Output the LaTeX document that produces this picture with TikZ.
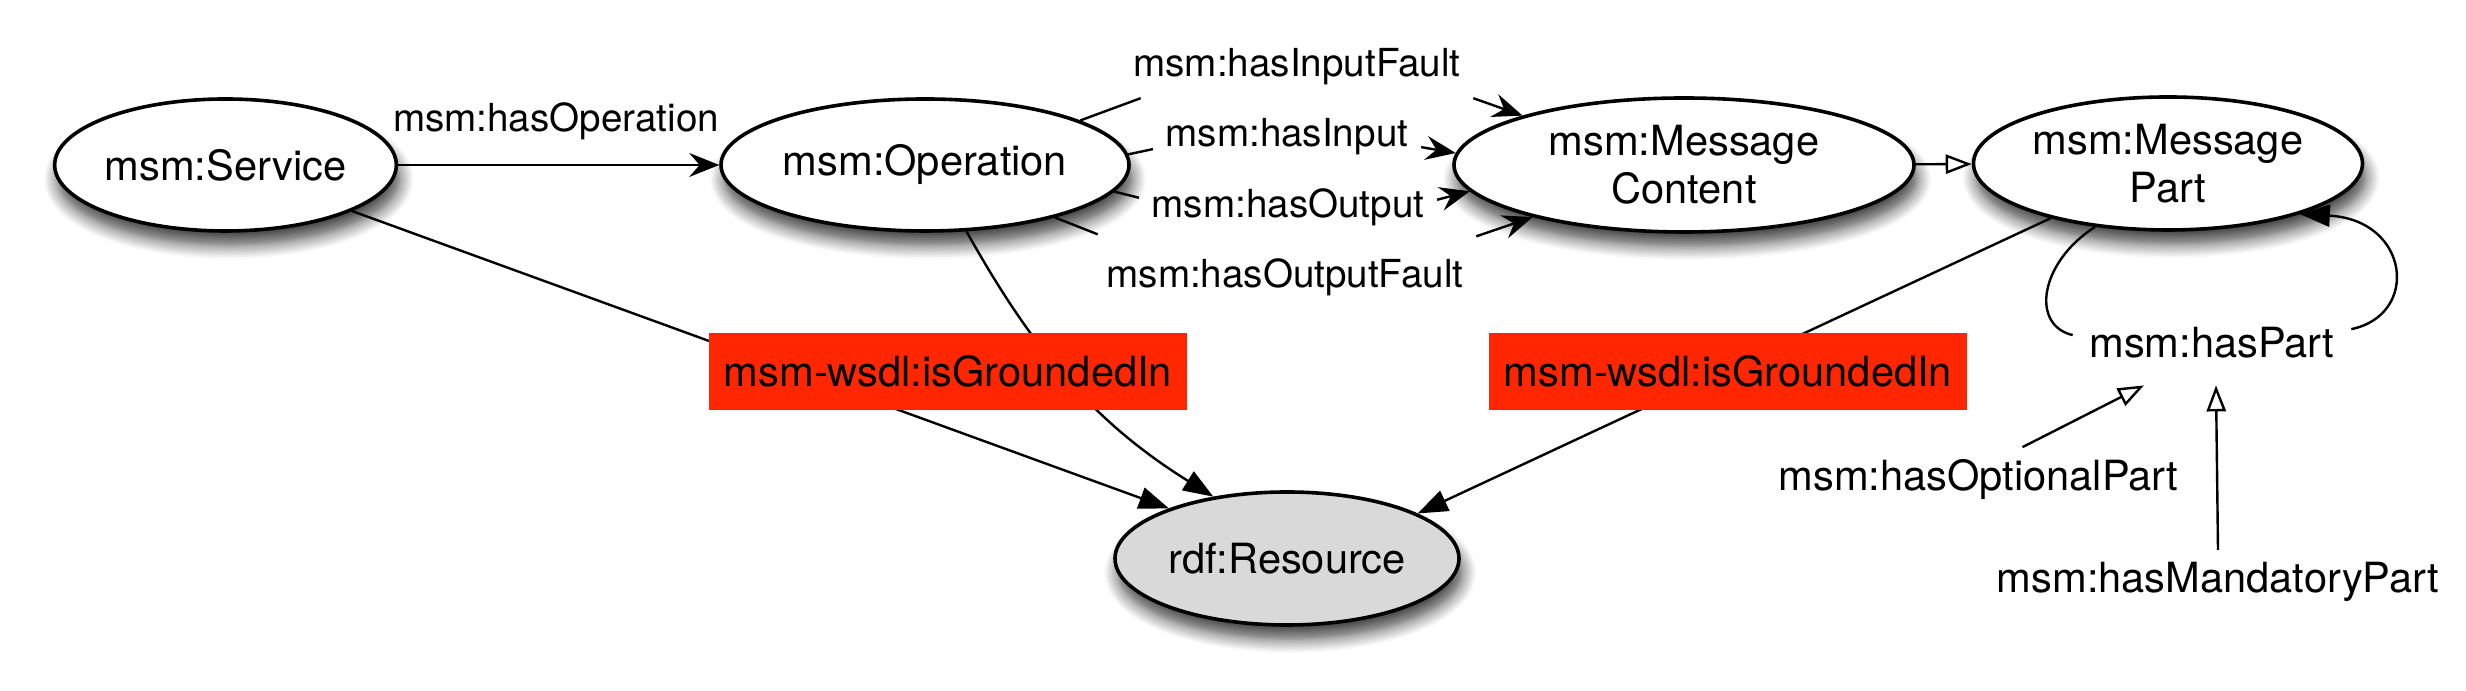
\documentclass[tikz,border=0pt]{standalone}
\usepackage{fontspec}
\setmainfont{TeX Gyre Heros}
\usetikzlibrary{arrows.meta,shapes.geometric,shadows.blur}
\definecolor{boxred}{RGB}{255,38,0}
\definecolor{resgray}{RGB}{217,217,217}
\tikzset{
  nodefont/.style={font=\fontsize{10.4pt}{12pt}\selectfont},
  edgefont/.style={font=\fontsize{9.65pt}{11pt}\selectfont},
  cls/.style={ellipse, draw=black, line width=0.9pt, fill=white, inner sep=0pt,
    align=center, nodefont,
    blur shadow={shadow xshift=0.8pt, shadow yshift=-3.5pt, shadow blur radius=3.5pt, shadow blur steps=8, shadow opacity=75}},
  redbox/.style={rectangle, fill=boxred, inner sep=0pt, minimum width=119.5pt,
    minimum height=19.25pt, nodefont},
  elabel/.style={edgefont, inner sep=3pt, anchor=base},
  plabel/.style={nodefont, inner sep=3pt, anchor=base},
  conn/.style={line width=0.6pt, draw=black},
  stl/.style={-{Stealth[length=7.5pt,width=6pt,inset=2.6pt]}},
  ftri/.style={-{Triangle[length=7.5pt,width=5.5pt]}},
  otri/.style={-{Triangle[open,length=6.5pt,width=4.8pt,fill=white]}}
}
\begin{document}
\begin{tikzpicture}[x=0.25pt,y=-0.25pt]
\useasboundingbox (0,0) rectangle (2466,691);
% classes
\node[cls, minimum width=84.25pt, minimum height=33pt] (svc) at (225.5,165) {msm:Service};
\node[cls, minimum width=102pt, minimum height=33pt] (op) at (925,165) {msm:Operation};
\node[cls, minimum width=115pt, minimum height=33.5pt] (mc) at (1684,165) {msm:Message\\Content};
\node[cls, minimum width=97.25pt, minimum height=33.25pt] (mp) at (2168,163.5) {msm:Message\\Part};
\node[cls, fill=resgray, minimum width=86pt, minimum height=33.25pt] (res) at (1287,558.5) {rdf:Resource};
% labels
\node[elabel] (lop) at (556,132) {msm:hasOperation};
\node[elabel] (lif) at (1297,77) {msm:hasInputFault};
\node[elabel] (lin) at (1287,147) {msm:hasInput};
\node[elabel] (lout) at (1288,218) {msm:hasOutput};
\node[elabel] (loutf) at (1285,288) {msm:hasOutputFault};
\node[nodefont, anchor=base, inner xsep=4pt, inner ysep=6.5pt] (hp) at (2212,358) {msm:hasPart};
\node[plabel] (lopt) at (1978.5,491) {msm:hasOptionalPart};
\node[plabel] (lman) at (2218,593) {msm:hasMandatoryPart};
% connectors
\draw[conn,stl] (svc) -- (op);
\draw[conn] (op.16.1) -- ([xshift=5pt]lif.south west);
\draw[conn,stl] (lif.south east) -- (mc.163.8);
\draw[conn] (op.3.2) -- ([yshift=-3pt]lin.west);
\draw[conn,stl] ([yshift=-2.5pt]lin.east) -- (mc.177.3);
\draw[conn] (op.-8.9) -- ([yshift=2.5pt]lout.west);
\draw[conn,stl] ([yshift=2pt]lout.east) -- (mc.187.8);
\draw[conn] (op.-22.2) -- ([xshift=1pt,yshift=3pt]loutf.north west);
\draw[conn,stl] ([yshift=2.5pt]loutf.north east) -- (mc.199.1);
\draw[conn,otri] (mc) -- (mp);
\draw[conn] (mp.221.5) .. controls (2040,262) and (2030,325) .. ([yshift=2pt]hp.west);
\draw[conn,ftri] ([yshift=3.5pt]hp.east) .. controls (2420,315) and (2410,220) .. (mp.-21.3);
\draw[conn,otri] ([xshift=11pt]lopt.north) -- ([xshift=-17pt]hp.south);
\draw[conn,otri] (lman.north) -- ([xshift=1pt]hp.south);
\draw[conn,ftri] (svc.-20) -- (res.157.8);
\draw[conn,ftri] (op.-58.9) .. controls (1030,345) and (1090,420) .. (res.140.6);
\draw[conn,ftri] (mp.205.8) -- (res.19.8);
% grounding labels
\node[redbox] (g1) at (948,371.5) {msm-wsdl:isGroundedIn};
\node[redbox] (g2) at (1728,371.5) {msm-wsdl:isGroundedIn};
\end{tikzpicture}
\end{document}
